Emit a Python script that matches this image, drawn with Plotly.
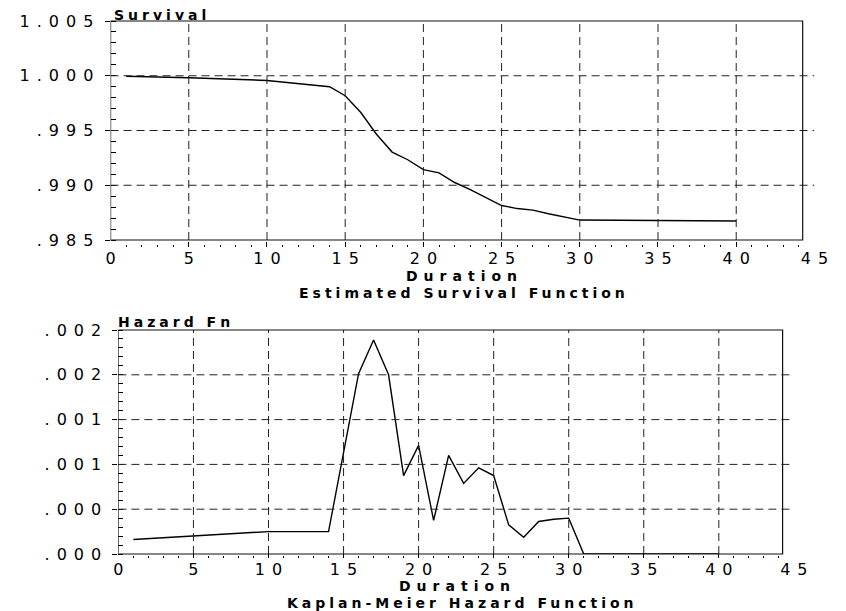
import plotly.graph_objects as go

# ---------------- data ----------------
surv_duration = [1, 5, 10, 14, 15, 16, 17, 18, 19, 20, 21, 22, 23, 24, 25,
                 26, 27, 28, 29, 30, 40]
surv_values = [0.99995, 0.99982, 0.99957, 0.99900, 0.99818, 0.99664, 0.99466,
               0.99303, 0.99233, 0.99142, 0.99113, 0.99025, 0.98960, 0.98891,
               0.98815, 0.98787, 0.98773, 0.98740, 0.98712, 0.98682, 0.98673]

haz_duration = [1, 10, 14, 15, 16, 17, 18, 19, 20, 21, 22, 23, 24, 25, 26,
                27, 28, 29, 30, 31, 40]
haz_values = [0.00013, 0.00020, 0.00020, 0.00089, 0.00161, 0.00191, 0.00160,
              0.00070, 0.00097, 0.00030, 0.00088, 0.00063, 0.00077, 0.00070,
              0.00026, 0.00015, 0.00029, 0.00031, 0.00032, 0.0, 0.0]

x_tickvals = [0, 5, 10, 15, 20, 25, 30, 35, 40, 45]
x_ticklabels = ["0", "5", "10", "15", "20", "25", "30", "35", "40", "45"]

surv_tickvals = [0.985, 0.990, 0.995, 1.000, 1.005]
surv_ticklabels = [".985", ".990", ".995", "1.000", "1.005"]

haz_tickvals = [0.0, 0.0004, 0.0008, 0.0012, 0.0016, 0.0020]
haz_ticklabels = [".000", ".000", ".001", ".001", ".002", ".002"]

# ---------------- layout helpers ----------------
W, H = 846, 611
PLOT_TOP, PLOT_BOT = 21, 558          # pixel extent of the plotting area


def px_x(p):
    return p / W


def px_y(p):
    return (PLOT_BOT - p) / (PLOT_BOT - PLOT_TOP)


def spaced(s, ls):
    """letter-spaced text (no trailing space after the last glyph)"""
    if len(s) < 2:
        return s
    return f'<span style="letter-spacing:{ls}px">{s[:-1]}</span>{s[-1]}'


FRAME_XMAX = 44.25
FONT = "DejaVu Sans"
TICKFONT = dict(family=FONT, size=16, color="black")
TICK_LS = 7
GRID = dict(color="#222", width=1, dash="8px,5px")

fig = go.Figure()

fig.add_trace(go.Scatter(x=surv_duration, y=surv_values, mode="lines",
                         line=dict(color="black", width=1.4),
                         xaxis="x", yaxis="y", showlegend=False))
fig.add_trace(go.Scatter(x=haz_duration, y=haz_values, mode="lines",
                         line=dict(color="black", width=1.4),
                         xaxis="x2", yaxis="y2", showlegend=False))

top_dom = [px_y(240), 1.0]
bot_dom = [px_y(554), px_y(330)]

xcommon = dict(range=[0, 45], tickvals=x_tickvals,
               ticktext=[spaced(t, TICK_LS) for t in x_ticklabels],
               showgrid=False, zeroline=False, showline=False,
               ticks="inside", ticklen=5, tickcolor="black", tickwidth=1,
               minor=dict(dtick=1, ticks="inside", ticklen=2,
                          tickcolor="black", tickwidth=1),
               tickfont=TICKFONT, ticklabelstandoff=0)

ycommon = dict(showgrid=False, zeroline=False, showline=False,
               ticks="outside", ticklen=5, tickcolor="black", tickwidth=1,
               tickfont=TICKFONT, ticklabelstandoff=8)

fig.update_layout(
    width=W, height=H,
    margin=dict(l=0, r=0, t=PLOT_TOP, b=H - PLOT_BOT),
    paper_bgcolor="white", plot_bgcolor="white",
    xaxis=dict(domain=[px_x(108), px_x(828)], anchor="free",
               position=px_y(247), **xcommon),
    yaxis=dict(domain=top_dom, range=[0.985, 1.005], anchor="x",
               tickvals=surv_tickvals,
               ticktext=[spaced(t, TICK_LS) for t in surv_ticklabels],
               minor=dict(dtick=0.001, ticks="inside", ticklen=5,
                          tickcolor="black", tickwidth=1),
               **ycommon),
    xaxis2=dict(domain=[px_x(116), px_x(807)], anchor="free",
                position=0, **xcommon),
    yaxis2=dict(domain=bot_dom, range=[0, 0.002], anchor="x2",
                tickvals=haz_tickvals,
                ticktext=[spaced(t, TICK_LS) for t in haz_ticklabels],
                minor=dict(dtick=0.00008, ticks="inside", ticklen=5,
                           tickcolor="black", tickwidth=1),
                **ycommon),
)

shapes = []
for xa, ya, yvals in (("x", "y", surv_tickvals), ("x2", "y2", haz_tickvals)):
    # vertical dashed grid lines at interior x ticks
    for v in x_tickvals[1:-1]:
        shapes.append(dict(type="line", xref=xa, yref=ya + " domain",
                           x0=v, x1=v, y0=0, y1=1, line=GRID))
    # horizontal dashed grid lines at interior y ticks
    for v in yvals[1:-1]:
        shapes.append(dict(type="line", xref=xa, yref=ya,
                           x0=0, x1=45, y0=v, y1=v, line=GRID))
    # frame
    shapes.append(dict(type="rect", xref=xa, yref=ya + " domain",
                       x0=0, x1=FRAME_XMAX, y0=0, y1=1,
                       line=dict(color="#111", width=1.2)))
fig.update_layout(shapes=shapes)

TITLEFONT = dict(family=FONT, size=14, color="black", weight="bold")
ann = [
    dict(text=spaced("Survival", 4), x=px_x(110), y=px_y(15), xanchor="left"),
    dict(text=spaced("Duration", 6), x=px_x(467), y=px_y(276),
         xanchor="center"),
    dict(text=spaced("Estimated Survival Function", 4), x=px_x(468),
         y=px_y(292.5), xanchor="center"),
    dict(text=spaced("Hazard Fn", 4), x=px_x(115), y=px_y(322),
         xanchor="left"),
    dict(text=spaced("Duration", 6), x=px_x(460), y=px_y(586),
         xanchor="center"),
    dict(text=spaced("Kaplan-Meier Hazard Function", 4), x=px_x(466),
         y=px_y(602.5), xanchor="center"),
]
for a in ann:
    fig.add_annotation(xref="paper", yref="paper", showarrow=False,
                       yanchor="middle", font=TITLEFONT, borderpad=0, **a)

fig.write_html("out.html")
